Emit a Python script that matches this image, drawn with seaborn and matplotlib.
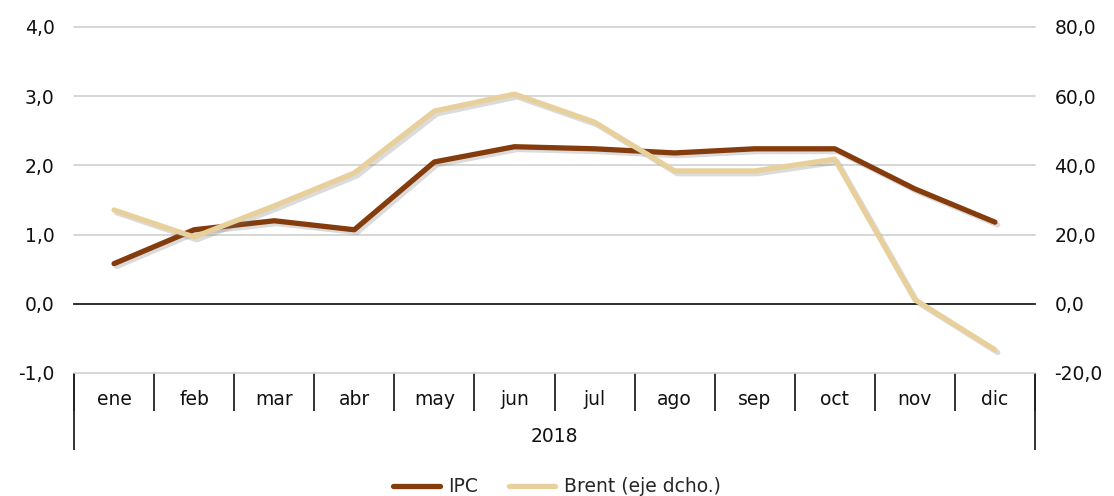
import numpy as np
import pandas as pd
import matplotlib
matplotlib.use("Agg")
import matplotlib.pyplot as plt
import matplotlib.patheffects as pe
from matplotlib.lines import Line2D
from matplotlib.ticker import FuncFormatter
import seaborn as sns

# chart data
months = ["ene", "feb", "mar", "abr", "may", "jun", "jul", "ago", "sep", "oct", "nov", "dic"]
year_label = "2018"
ipc = [0.58, 1.07, 1.20, 1.07, 2.05, 2.27, 2.24, 2.18, 2.24, 2.24, 1.66, 1.18]
brent = [27.1, 19.3, 28.3, 37.8, 55.7, 60.6, 52.5, 38.4, 38.4, 41.8, 1.2, -13.3]

df = pd.DataFrame({"pos": np.arange(len(months)), "mes": months, "IPC": ipc, "Brent": brent})

sns.set_style("white")
plt.rcParams["font.family"] = ["DejaVu Sans"]
fs = 13.5

ipc_color = "#843C0C"
brent_color = "#E8D09C"
grid_color = "#D0D0D0"

fig = plt.figure(figsize=(11.14, 4.96), dpi=100)
ax = fig.add_axes([74 / 1114, 1 - 373 / 496, (1035 - 74) / 1114, (373 - 27) / 496])
ax2 = ax.twinx()

shadow = [pe.SimpleLineShadow(offset=(2, -2), shadow_color="#707070", alpha=0.25), pe.Normal()]

sns.lineplot(data=df, x="pos", y="IPC", ax=ax, color=ipc_color, linewidth=3.8,
             path_effects=shadow, legend=False)
sns.lineplot(data=df, x="pos", y="Brent", ax=ax2, color=brent_color, linewidth=3.8,
             path_effects=shadow, legend=False)

n = len(months)
bounds = np.arange(n + 1) - 0.5
centers = np.arange(n)

fmt1 = FuncFormatter(lambda v, p: f"{v:.1f}".replace(".", ","))

ax.set_xlim(-0.5, n - 0.5)
ax.set_ylim(-1, 4)
ax.set_yticks(np.arange(-1, 5, 1))
ax.yaxis.set_major_formatter(fmt1)
ax2.set_ylim(-20, 80)
ax2.set_yticks(np.arange(-20, 100, 20))
ax2.yaxis.set_major_formatter(fmt1)

ax.grid(axis="y", color=grid_color, linewidth=1.2)
ax.set_axisbelow(True)
for gl in ax.get_ygridlines():
    gl.set_clip_on(False)
for a in (ax, ax2):
    for s in ["top", "left", "right"]:
        a.spines[s].set_visible(False)
    a.set_xlabel("")
    a.set_ylabel("")
ax2.spines["bottom"].set_visible(False)

ax.tick_params(axis="y", length=0, pad=14, labelsize=fs, colors="#111111")
ax2.tick_params(axis="y", length=0, pad=14, labelsize=fs, colors="#111111")

# zero line with short ticks at category boundaries
ax.spines["bottom"].set_position(("data", 0))
ax.spines["bottom"].set_color("#222222")
ax.spines["bottom"].set_linewidth(1.3)
ax.set_xticks(bounds)
ax.tick_params(axis="x", direction="out", length=3.6, width=1.3, color="#222222", labelbottom=False)

# month row
sec = ax.secondary_xaxis("bottom")
sec.spines["bottom"].set_visible(False)
sec.set_xticks(bounds)
sec.set_xticklabels([])
sec.set_xticks(centers, minor=True)
sec.set_xticklabels(months, minor=True)
sec.tick_params(axis="x", which="major", direction="out", length=27.5, width=1.3, color="#222222")
sec.tick_params(axis="x", which="minor", length=0, pad=12, labelsize=fs, labelcolor="#111111")

# year row
sec2 = ax.secondary_xaxis("bottom")
sec2.spines["bottom"].set_visible(False)
sec2.set_xticks([bounds[0], bounds[-1]])
sec2.set_xticklabels([])
sec2.set_xticks([(n - 1) / 2], minor=True)
sec2.set_xticklabels([year_label], minor=True)
sec2.tick_params(axis="x", which="major", direction="out", length=55.5, width=1.3, color="#222222")
sec2.tick_params(axis="x", which="minor", length=0, pad=39, labelsize=fs, labelcolor="#111111")

handles = [Line2D([], [], color=ipc_color, linewidth=3.8, solid_capstyle="round"),
           Line2D([], [], color=brent_color, linewidth=3.8, solid_capstyle="round")]
fig.legend(handles, ["IPC", "Brent (eje dcho.)"], loc="lower center", bbox_to_anchor=(0.5, -0.035),
           ncol=2, frameon=False, fontsize=fs, handlelength=2.5, columnspacing=1.6,
           handletextpad=0.45)

fig.savefig("out.png", dpi=100)
